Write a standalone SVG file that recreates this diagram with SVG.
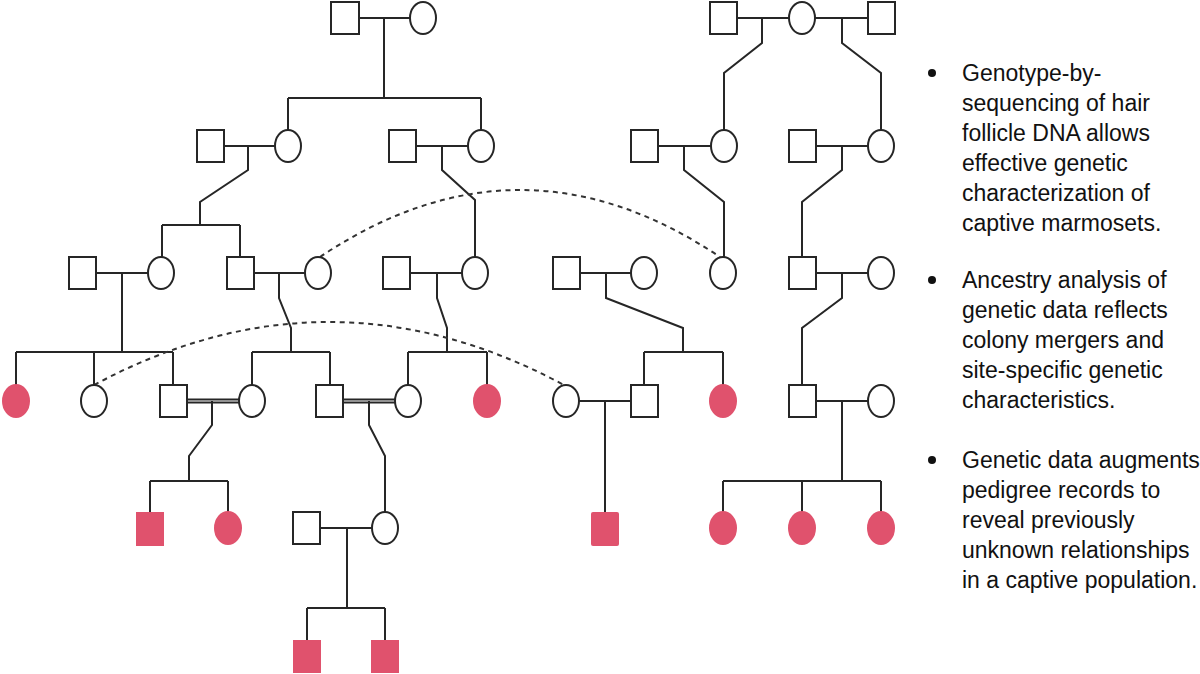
<svg xmlns="http://www.w3.org/2000/svg" width="1200" height="674" viewBox="0 0 1200 674">
<style>
.m{fill:#fff;stroke:#262626;stroke-width:2}
.f{fill:#e0526d;stroke:none}
.c{fill:none;stroke:#262626;stroke-width:2}
.d{fill:none;stroke:#333;stroke-width:2;stroke-dasharray:5 4.5}
.t{font-family:"Liberation Sans",Arial,sans-serif;font-size:23px;fill:#111}
.b{fill:#111}
</style>
<rect width="1200" height="674" fill="#fff"/>
<g id="connectors">
<path class="c" d="M359 18H410M384 18V98M288 98H481M288 98V130M481 98V130"/>
<path class="c" d="M224 146H275M248 146V170L200 202V225M162 225H240M162 225V257M240 225V257"/>
<path class="c" d="M416 146H468M442 146V170L475 200V257"/>
<path class="c" d="M737 18H789M815 18H868M762 18V43L724 73V130M842 18V43L881 73V130"/>
<path class="c" d="M658 146H711M684 146V170L724 202V257"/>
<path class="c" d="M816 146H868M842 146V170L802 202V257"/>
<path class="c" d="M96 273H148M122 273V352M16 352H173M16 352V385M94 352V385M173 352V385"/>
<path class="c" d="M254 273H305M279 273V298L291 328V352M252 352H330M252 352V385M330 352V385"/>
<path class="c" d="M410 273H462M437 273V298L447 328V352M408 352H487M408 352V385M487 352V385"/>
<path class="c" d="M580 273H631M606 273V298L683 328V352M644 352H723M644 352V385M723 352V385"/>
<path class="c" d="M816 273H868M842 273V298L802 328V385"/>
<path class="c" d="M187 399.5H239M187 402.5H239M212 401V425L189 456V481M150 481H228M150 481V512M228 481V512"/>
<path class="c" d="M343 399.5H395M343 402.5H395M369 401V425L385 456V512"/>
<path class="c" d="M579 401H631M605 401V512"/>
<path class="c" d="M816 401H868M842 401V481M723 481H881M723 481V512M802 481V512M881 481V512"/>
<path class="c" d="M320 528H372M347 528V608M307 608H385M307 608V640M385 608V640"/>
<path class="d" d="M320 257Q520 123 720 257"/>
<path class="d" d="M94 385Q329 259 564 385"/>
</g>
<g id="g0a"><rect class="m" x="331" y="2" width="28" height="32"/></g>
<g id="g0b"><ellipse class="m" cx="423" cy="18" rx="13" ry="16"/></g>
<g id="g0c"><rect class="m" x="710" y="2" width="27" height="32"/></g>
<g id="g0d"><ellipse class="m" cx="802" cy="18" rx="13" ry="16"/></g>
<g id="g0e"><rect class="m" x="868" y="2" width="27" height="32"/></g>
<g id="g1a"><rect class="m" x="197" y="130" width="27" height="32"/></g>
<g id="g1b"><ellipse class="m" cx="288" cy="146" rx="13" ry="16"/></g>
<g id="g1c"><rect class="m" x="389" y="130" width="27" height="32"/></g>
<g id="g1d"><ellipse class="m" cx="481" cy="146" rx="13" ry="16"/></g>
<g id="g1e"><rect class="m" x="631" y="130" width="27" height="32"/></g>
<g id="g1f"><ellipse class="m" cx="724" cy="146" rx="13" ry="16"/></g>
<g id="g1g"><rect class="m" x="789" y="130" width="27" height="32"/></g>
<g id="g1h"><ellipse class="m" cx="881" cy="146" rx="13" ry="16"/></g>
<g id="g2a"><rect class="m" x="69" y="257" width="27" height="32"/></g>
<g id="g2b"><ellipse class="m" cx="161" cy="273" rx="13" ry="16"/></g>
<g id="g2c"><rect class="m" x="227" y="257" width="27" height="32"/></g>
<g id="g2d"><ellipse class="m" cx="318" cy="273" rx="13" ry="16"/></g>
<g id="g2e"><rect class="m" x="383" y="257" width="27" height="32"/></g>
<g id="g2f"><ellipse class="m" cx="475" cy="273" rx="13" ry="16"/></g>
<g id="g2g"><rect class="m" x="553" y="257" width="27" height="32"/></g>
<g id="g2h"><ellipse class="m" cx="644" cy="273" rx="13" ry="16"/></g>
<g id="g2i"><ellipse class="m" cx="723" cy="273" rx="13" ry="16"/></g>
<g id="g2j"><rect class="m" x="789" y="257" width="27" height="32"/></g>
<g id="g2k"><ellipse class="m" cx="881" cy="273" rx="13" ry="16"/></g>
<g id="g3a"><ellipse class="f" cx="16" cy="401" rx="14" ry="17"/></g>
<g id="g3b"><ellipse class="m" cx="94" cy="401" rx="13" ry="16"/></g>
<g id="g3c"><rect class="m" x="160" y="385" width="27" height="32"/></g>
<g id="g3d"><ellipse class="m" cx="252" cy="401" rx="13" ry="16"/></g>
<g id="g3e"><rect class="m" x="316" y="385" width="27" height="32"/></g>
<g id="g3f"><ellipse class="m" cx="408" cy="401" rx="13" ry="16"/></g>
<g id="g3g"><ellipse class="f" cx="487" cy="401" rx="14" ry="17"/></g>
<g id="g3h"><ellipse class="m" cx="566" cy="401" rx="13" ry="16"/></g>
<g id="g3i"><rect class="m" x="631" y="385" width="27" height="32"/></g>
<g id="g3j"><ellipse class="f" cx="723" cy="401" rx="14" ry="17"/></g>
<g id="g3k"><rect class="m" x="789" y="385" width="27" height="32"/></g>
<g id="g3l"><ellipse class="m" cx="881" cy="401" rx="13" ry="16"/></g>
<g id="g4a"><rect class="f" x="136" y="512" width="28" height="34"/></g>
<g id="g4b"><ellipse class="f" cx="228" cy="528" rx="14" ry="17"/></g>
<g id="g4c"><rect class="m" x="293" y="512" width="27" height="32"/></g>
<g id="g4d"><ellipse class="m" cx="385" cy="528" rx="13" ry="16"/></g>
<g id="g4e"><rect class="f" x="591" y="512" width="28" height="34" rx="2"/></g>
<g id="g4f"><ellipse class="f" cx="723" cy="528" rx="14" ry="17"/></g>
<g id="g4g"><ellipse class="f" cx="802" cy="528" rx="14" ry="17"/></g>
<g id="g4h"><ellipse class="f" cx="881" cy="528" rx="14" ry="17"/></g>
<g id="g5a"><rect class="f" x="293" y="640" width="28" height="33"/></g>
<g id="g5b"><rect class="f" x="371" y="640" width="28" height="33"/></g>
<g id="notes">
<circle class="b" cx="932" cy="73" r="4"/>
<circle class="b" cx="932" cy="280" r="4"/>
<circle class="b" cx="932" cy="460" r="4"/>
<text class="t" x="962" y="81">Genotype-by-</text>
<text class="t" x="962" y="111">sequencing of hair</text>
<text class="t" x="962" y="141">follicle DNA allows</text>
<text class="t" x="962" y="171">effective genetic</text>
<text class="t" x="962" y="201">characterization of</text>
<text class="t" x="962" y="231">captive marmosets.</text>
<text class="t" x="962" y="288">Ancestry analysis of</text>
<text class="t" x="962" y="318">genetic data reflects</text>
<text class="t" x="962" y="348">colony mergers and</text>
<text class="t" x="962" y="378">site-specific genetic</text>
<text class="t" x="962" y="408">characteristics.</text>
<text class="t" x="962" y="468">Genetic data augments</text>
<text class="t" x="962" y="498">pedigree records to</text>
<text class="t" x="962" y="528">reveal previously</text>
<text class="t" x="962" y="558">unknown relationships</text>
<text class="t" x="962" y="588">in a captive population.</text>
</g>
</svg>
